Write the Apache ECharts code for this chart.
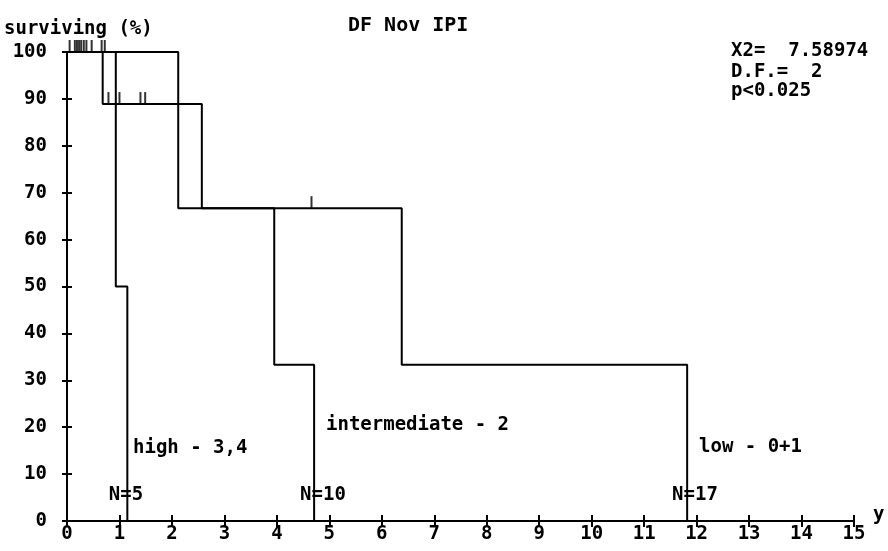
<!DOCTYPE html>
<html>
<head>
<meta charset="utf-8">
<script src="https://cdn.jsdelivr.net/npm/echarts@6/dist/echarts.min.js"></script>
<style>
html,body{margin:0;padding:0;background:#fff;}
#c{width:888px;height:551px;}
</style>
</head>
<body>
<div id="c"></div>
<script>
// ---- data ----
const xTickLabels = ['0','1','2','3','4','5','6','7','8','9','10','11','12','13','14','15'];
const yTickLabels = ['0','10','20','30','40','50','60','70','80','90','100'];

const highTimes = [0, 0.93, 1.15];
const highSurv  = [100, 50, 0];

const intTimes = [0, 0.68, 2.57, 3.95, 4.71];
const intSurv  = [100, 88.9, 66.7, 33.3, 0];

const lowTimes = [0, 2.12, 6.38, 11.82];
const lowSurv  = [100, 66.7, 33.3, 0];

const censorTimes = [0.05, 0.15, 0.19, 0.23, 0.27, 0.32, 0.37, 0.47, 0.66, 0.72, 0.79, 1.00, 1.40, 1.49, 4.66];
const censorSurv  = [100, 100, 100, 100, 100, 100, 100, 100, 100, 100, 88.9, 88.9, 88.9, 88.9, 66.7];

const curveLabels = ['high - 3,4', 'intermediate - 2', 'low - 0+1'];
const nLabels = ['N=5', 'N=10', 'N=17'];
const statLines = ['X2=  7.58974', 'D.F.=  2', 'p<0.025'];

// ---- chart ----
const FONT = '"DejaVu Sans Mono", "Liberation Mono", monospace';
const pairs = (t, s) => t.map((v, i) => [v, s[i]]);
const lineStyle = { color: '#000', width: 2 };

const chart = echarts.init(document.getElementById('c'), null, { renderer: 'canvas' });

function txt(text, x, y, opts) {
  return {
    type: 'text',
    style: Object.assign({
      text: text, x: x, y: y,
      font: 'bold 19px ' + FONT,
      fill: '#000',
      textAlign: 'left',
      textVerticalAlign: 'middle'
    }, opts || {})
  };
}

const option = {
  backgroundColor: '#fff',
  animation: false,
  grid: { left: 67, right: 34, top: 52, bottom: 30, containLabel: false },
  xAxis: [{
    type: 'value', min: 0, max: 15, interval: 1,
    axisLine: { show: true, onZero: false, lineStyle: { color: '#000', width: 2 } },
    axisTick: { show: true, inside: false, length: 6, lineStyle: { color: '#000', width: 2 } },
    axisLabel: {
      margin: 4, color: '#000', fontFamily: FONT, fontWeight: 'bold', fontSize: 19,
      formatter: v => xTickLabels[Math.round(v)] ?? ''
    },
    splitLine: { show: false }
  }, {
    type: 'value', min: 0, max: 15, interval: 1, position: 'bottom',
    axisLine: { show: false },
    axisTick: { show: true, inside: true, length: 6, lineStyle: { color: '#000', width: 2 } },
    axisLabel: { show: false },
    splitLine: { show: false }
  }],
  yAxis: [{
    type: 'value', min: 0, max: 100, interval: 10,
    axisLine: { show: true, onZero: false, lineStyle: { color: '#000', width: 2 } },
    axisTick: { show: true, inside: false, length: 5, lineStyle: { color: '#000', width: 2 } },
    axisLabel: {
      margin: 20, color: '#000', fontFamily: FONT, fontWeight: 'bold', fontSize: 19,
      formatter: v => yTickLabels[Math.round(v / 10)] ?? ''
    },
    splitLine: { show: false }
  }, {
    type: 'value', min: 0, max: 100, interval: 10, position: 'left',
    axisLine: { show: false },
    axisTick: { show: true, inside: true, length: 5, lineStyle: { color: '#000', width: 2 } },
    axisLabel: { show: false },
    splitLine: { show: false }
  }],
  series: [
    { type: 'line', step: 'end', data: pairs(highTimes, highSurv), symbol: 'none', lineStyle: lineStyle, xAxisIndex: 0, yAxisIndex: 0 },
    { type: 'line', step: 'end', data: pairs(intTimes, intSurv), symbol: 'none', lineStyle: lineStyle, xAxisIndex: 0, yAxisIndex: 0 },
    { type: 'line', step: 'end', data: pairs(lowTimes, lowSurv), symbol: 'none', lineStyle: lineStyle, xAxisIndex: 0, yAxisIndex: 0 },
    { type: 'scatter', data: pairs(censorTimes, censorSurv), symbol: 'rect', symbolSize: [2, 12], symbolOffset: [0, -6],
      itemStyle: { color: '#000' }, xAxisIndex: 0, yAxisIndex: 0 }
  ],
  graphic: [
    txt('surviving (%)', 4, 29),
    txt('DF Nov IPI', 348, 26, { font: 'bold 20px ' + FONT }),
    txt(statLines[0], 731, 51),
    txt(statLines[1], 731, 72),
    txt(statLines[2], 731, 91),
    txt(curveLabels[0], 133, 448),
    txt(curveLabels[1], 326, 425),
    txt(curveLabels[2], 699, 447),
    txt(nLabels[0], 126, 495, { textAlign: 'center' }),
    txt(nLabels[1], 323, 495, { textAlign: 'center' }),
    txt(nLabels[2], 695, 495, { textAlign: 'center' }),
    txt('y', 873, 515)
  ]
};
chart.setOption(option);
</script>
</body>
</html>
